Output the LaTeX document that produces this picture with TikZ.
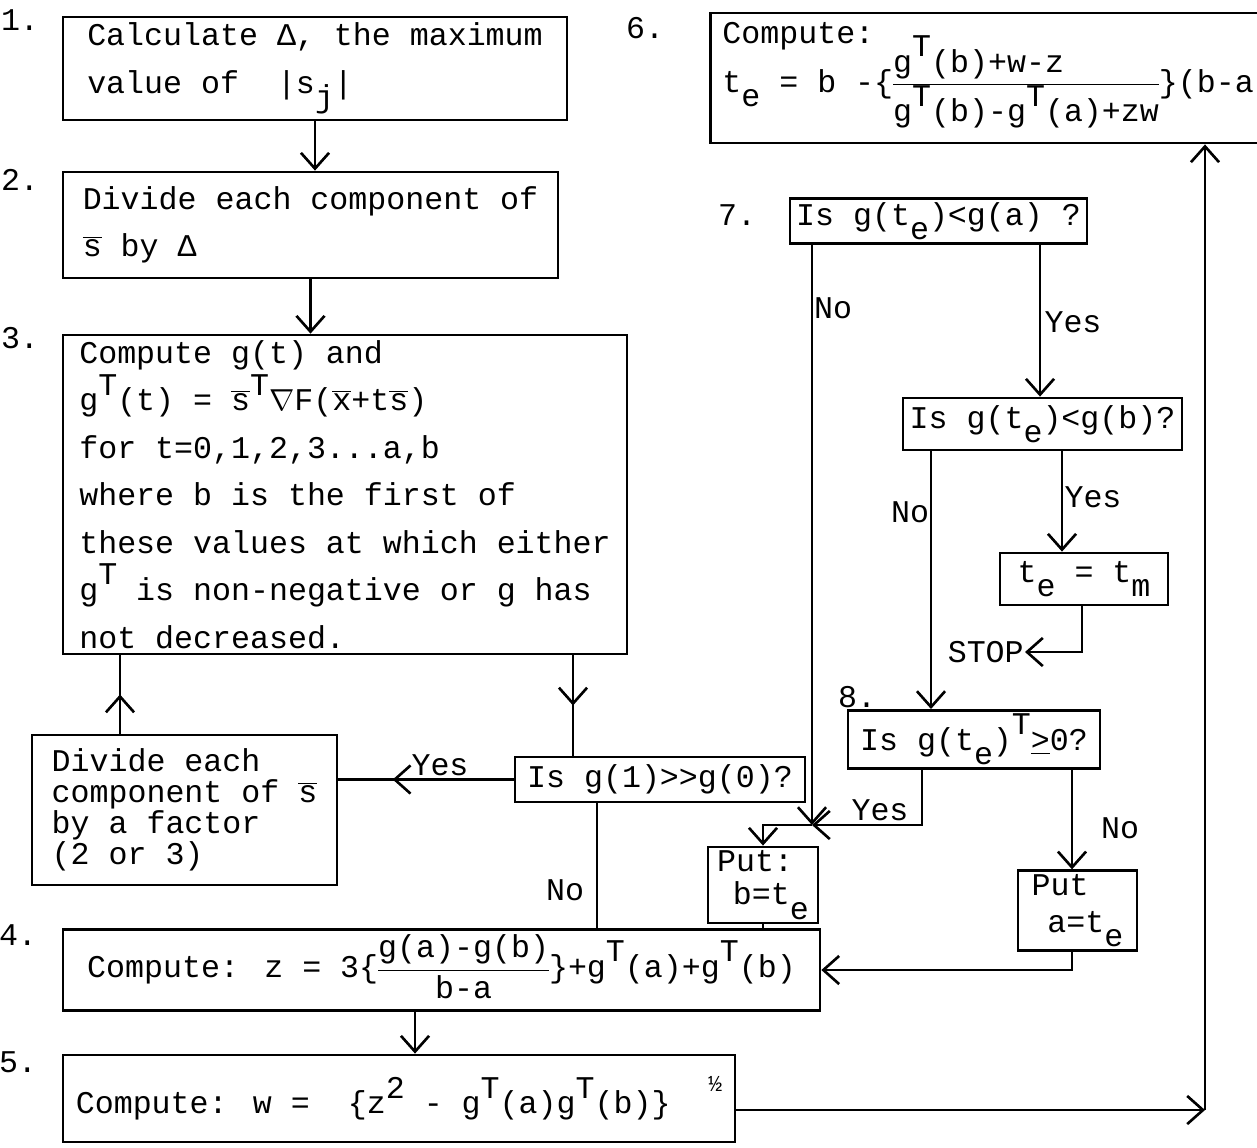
\documentclass[tikz,border=0pt]{standalone}
\usepackage{fontspec}
\setmainfont{Liberation Mono}
\usetikzlibrary{arrows.meta,decorations.markings}

\newcommand\raiseit[1]{\raisebox{.5em}{#1}}
\newcommand\lowerit[1]{\raisebox{-.45em}{#1}}
\newcommand\barred[1]{$\overline{\mbox{#1}}$}
\newcommand\typfrac[3][c]{{\renewcommand\arraystretch{.85}%
 \begin{tabular}[c]{@{}#1@{}}#2\\\hline #3\end{tabular}}}

\begin{document}
\begin{tikzpicture}[x=0.02cm,y=-0.02cm,line width=1.5pt,
 >={Straight Barb[length=9pt,width=16pt]},
 every node/.style={font=\fontsize{18}{27}\selectfont},
 box/.style={draw,line width=1.6pt,align=left,inner xsep=2pt,inner ysep=2pt},
 tight/.style={font=\fontsize{18}{18}\selectfont},
 lbl/.style={inner sep=0pt},
 midarrow/.style={postaction={decorate},decoration={markings,
 mark=at position #1 with {\arrow{>}}}}]
\useasboundingbox (0,0) rectangle (1257,1147);
\clip (0,0) rectangle (1257,1147);
% left column
\node[box,minimum width=10.08cm,minimum height=2.06cm] (b1) at (315,68.5)
 {Calculate Δ, the maximum\\value of~ |s\lowerit{j}|};
\node[box,minimum width=9.9cm,minimum height=2.12cm] (b2) at (310.5,225)
 {Divide each component of\\\barred{s} by Δ};
\node[box,minimum width=11.28cm,minimum height=6.38cm] (b3) at (345,494.5)
 {Compute g(t) and\\g\raiseit{T}(t) = \barred{s}\raiseit{T}$\nabla$F(\barred{x}+t\barred{s})\\
 for t=0,1,2,3...a,b\\where b is the first of\\these values at which either\\
 g\raiseit{T} is non-negative or g has\\not decreased.};
\node[box,tight,minimum width=6.1cm,minimum height=3cm,
 font=\fontsize{18}{17.6}\selectfont] (bdiv) at (184.5,810)
 {Divide each\\component of \barred{s}\\by a factor\\(2 or 3)};
\node[box,minimum width=5.8cm,minimum height=0.9cm] (dec1) at (660,779.5)
 {Is g(1)>{}>g(0)?};
\node[box,minimum width=15.14cm,minimum height=1.6cm,inner ysep=0pt] (b4) at (441.5,970)
 {Compute: z = 3\{\typfrac{g(a)-g(b)}{b-a}\}+g\raiseit{T}(a)+g\raiseit{T}(b)};
\node[box,minimum width=13.44cm,minimum height=1.74cm] (b5) at (399,1098.5)
 {Compute: w =~ \{z\raiseit{2} - g\raiseit{T}(a)g\raiseit{T}(b)\}~
 \raisebox{.7em}{\fontsize{13}{13}\selectfont ½}};
% right column
\node[box,anchor=west,inner xsep=0.24cm,inner ysep=3pt,minimum height=2.6cm] (b6) at (709,78)
 {Compute:\\[-9pt]t\lowerit{e} = b -\{\typfrac[l]{g\raiseit{T}(b)+w-z}{g\raiseit{T}(b)-g\raiseit{T}(a)+zw}\}(b-a};
\node[box,minimum width=5.94cm,minimum height=0.84cm] (dec7) at (938.5,221)
 {Is g(t\lowerit{e})<g(a) ?};
\node[box,minimum width=5.58cm,minimum height=1.04cm] (dec7b) at (1042.5,424)
 {Is g(t\lowerit{e})<g(b)?};
\node[box,minimum width=3.36cm,minimum height=1.04cm] (btm) at (1084,579)
 {t\lowerit{e} = t\lowerit{m}};
\node[box,minimum width=5.04cm,minimum height=1.1cm] (dec8) at (974,739.5)
 {Is g(t\lowerit{e})\raiseit{T}\underline{>}0?};
\node[box,minimum width=2.2cm,minimum height=1.52cm,
 font=\fontsize{18}{19}\selectfont] (putb) at (763,885)
 {Put:\\\hspace{.5em}b=t\lowerit{e}};
\node[box,minimum width=2.38cm,minimum height=1.5cm,
 font=\fontsize{18}{21}\selectfont] (puta) at (1077.5,910.5)
 {Put\\\hspace{.5em}a=t\lowerit{e}};
% step numbers
\foreach \k/\x/\y in {1/20/20,2/20/180,3/20/338,4/18/935,5/18/1062,6/645/28,7/737/215,8/857/697}
 \node[lbl] (n\k) at (\x,\y) {\k.};
% branch labels
\node[lbl] (yes1) at (440,765) {Yes};
\node[lbl] (no1) at (565,890) {No};
\node[lbl] (no7) at (833,308) {No};
\node[lbl] (yes7) at (1073,322) {Yes};
\node[lbl] (no7b) at (910,512) {No};
\node[lbl] (yes7b) at (1093,497) {Yes};
\node[lbl,anchor=east] (stop) at (1025,652) {STOP};
\node[lbl] (yes8) at (880,810) {Yes};
\node[lbl] (no8) at (1120,828) {No};
% lanes and bends
\coordinate (lA) at (573,0);
\coordinate (lB) at (120,0);
\coordinate (lC) at (597,0);
\coordinate (lD) at (415,0);
\coordinate (lF) at (1040,0);
\coordinate (lG) at (931,0);
\coordinate (lH) at (1062,0);
\coordinate (lI) at (1082,0);
\coordinate (lJ) at (922,0);
\coordinate (lK) at (1072,0);
\coordinate (cR) at (1205,1110);
\coordinate (jY) at (812,825);
% connectors
\draw[->] (b1.south) -- (b1.south |- b2.north);
\draw[->] (b2.south) -- (b2.south |- b3.north);
\draw[midarrow=.5] (b3.south -| lA) -- (dec1.north -| lA);
\draw[midarrow=.5] (bdiv.north -| lB) -- (b3.south -| lB);
\draw[midarrow=.69] (dec1.west) -- (bdiv.east |- dec1.west);
\draw (dec1.south -| lC) -- (b4.north -| lC);
\draw[->] (b4.south -| lD) -- (b5.north -| lD);
\draw[->] (b5.east |- cR) -- (cR);
\draw[->] (cR) -- (b6.south -| cR);
\draw[->] (dec7.south -| jY) -- (jY);
\draw[->] (dec7.south -| lF) -- (dec7b.north -| lF);
\draw[->] (dec7b.south -| lG) -- (dec8.north -| lG);
\draw[->] (dec7b.south -| lH) -- (btm.north -| lH);
\draw[->] (btm.south -| lI) |- (stop.east);
\draw[->] (dec8.south -| lJ) |- (jY);
\draw[->] (jY) -| (putb.north);
\draw[->] (dec8.south -| lK) -- (puta.north -| lK);
\draw[->] (puta.south -| lK) |- (b4.east);
\draw (putb.south) -- (putb.south |- b4.north);
\end{tikzpicture}
\end{document}
